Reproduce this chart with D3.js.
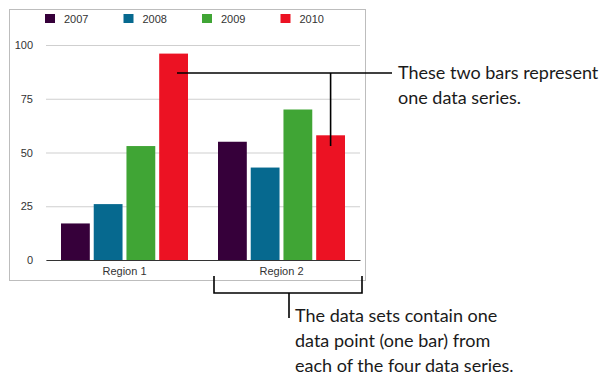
<!DOCTYPE html>
<html><head><meta charset="utf-8">
<script src="https://cdn.jsdelivr.net/npm/d3@7"></script>
<style>
html,body{margin:0;padding:0;background:#fff;}
svg{display:block;}
</style></head>
<body>
<svg id="c" width="604" height="377"></svg>
<script>
const regions = ["Region 1", "Region 2"];
const years = ["2007", "2008", "2009", "2010"];
const values2007 = [17, 55];
const values2008 = [26, 43];
const values2009 = [53, 70];
const values2010 = [96, 58];
const yTicks = [0, 25, 50, 75, 100];
const colors = ["#36003a", "#06698f", "#40a535", "#ec1223"];
const note1 = ["These two bars represent", "one data series."];
const note2 = ["The data sets contain one", "data point (one bar) from", "each of the four data series."];

const seriesValues = [values2007, values2008, values2009, values2010];
const svg = d3.select("#c");
const chartFont = "'Liberation Sans', Arial, sans-serif";
const noteFont = "Lato, 'Open Sans', sans-serif";

// frame
svg.append("rect").attr("x", 9.5).attr("y", 9.5).attr("width", 356).attr("height", 271)
  .attr("fill", "#fff").attr("stroke", "#bdbdbd").attr("stroke-width", 1);

const x0 = d3.scaleBand().domain(regions).range([46, 360]).padding(0);
const x1 = d3.scaleBand().domain(years).range([15, 142]).paddingInner(0.12).paddingOuter(0);
const y = d3.scaleLinear().domain([0, 100]).range([260, 45]);

// gridlines
const yAxis = d3.axisLeft(y).tickValues(yTicks).tickSize(-(360 - 46)).tickPadding(13);
const ga = svg.append("g").attr("transform", "translate(46,0)").call(yAxis);
ga.select(".domain").remove();
ga.selectAll(".tick line").attr("stroke", "#cfcfcf").attr("stroke-width", 1);
ga.selectAll(".tick text").attr("font-family", chartFont).attr("font-size", 11).attr("fill", "#333");

// bars
const groups = svg.append("g").selectAll("g").data(regions).join("g")
  .attr("transform", d => `translate(${x0(d)},0)`);
groups.selectAll("rect").data((r, ri) => years.map((yr, si) => ({yr, si, v: seriesValues[si][ri]})))
  .join("rect")
  .attr("x", d => x1(d.yr)).attr("width", x1.bandwidth())
  .attr("y", d => y(d.v)).attr("height", d => y(0) - y(d.v))
  .attr("fill", d => colors[d.si]);

// baseline axis
const xAxis = d3.axisBottom(x0).tickSize(0).tickPadding(7);
const gx = svg.append("g").attr("transform", `translate(0,${y(0)})`).call(xAxis);
gx.select(".domain").attr("stroke", "#333").attr("stroke-width", 1.2);
gx.selectAll(".tick text").attr("font-family", chartFont).attr("font-size", 11).attr("fill", "#333");

// legend
const leg = svg.append("g").selectAll("g").data(years).join("g")
  .attr("transform", (d, i) => `translate(${45 + i * 78.5},14)`);
leg.append("rect").attr("width", 10).attr("height", 9).attr("fill", (d, i) => colors[i]);
leg.append("text").attr("x", 19).attr("y", 9).text(d => d)
  .attr("font-family", chartFont).attr("font-size", 11).attr("fill", "#333");

// annotation 1
const redX2 = x0("Region 2") + x1("2010") + x1.bandwidth() / 2;
const lineY = 73;
const ann = svg.append("g").attr("stroke", "#000").attr("stroke-width", 1.6).attr("fill", "none");
ann.append("line").attr("x1", 177).attr("x2", 392).attr("y1", lineY).attr("y2", lineY);
ann.append("line").attr("x1", redX2).attr("x2", redX2).attr("y1", lineY).attr("y2", 146);

svg.append("g").selectAll("text").data(note1).join("text")
  .attr("x", 398).attr("y", (d, i) => 79 + i * 24.5).text(d => d)
  .attr("font-family", noteFont).attr("font-size", 18).attr("fill", "#1a1a1a");

// bracket
const bl = 214, br = 362, bY = 293, stemX = 289;
ann.append("path").attr("d", `M${bl},276V${bY}H${br}V276`);
ann.append("line").attr("x1", stemX).attr("x2", stemX).attr("y1", bY).attr("y2", 318);

svg.append("g").selectAll("text").data(note2).join("text")
  .attr("x", 295).attr("y", (d, i) => 322 + i * 25).text(d => d)
  .attr("font-family", noteFont).attr("font-size", 18).attr("fill", "#1a1a1a");
</script>
</body></html>
